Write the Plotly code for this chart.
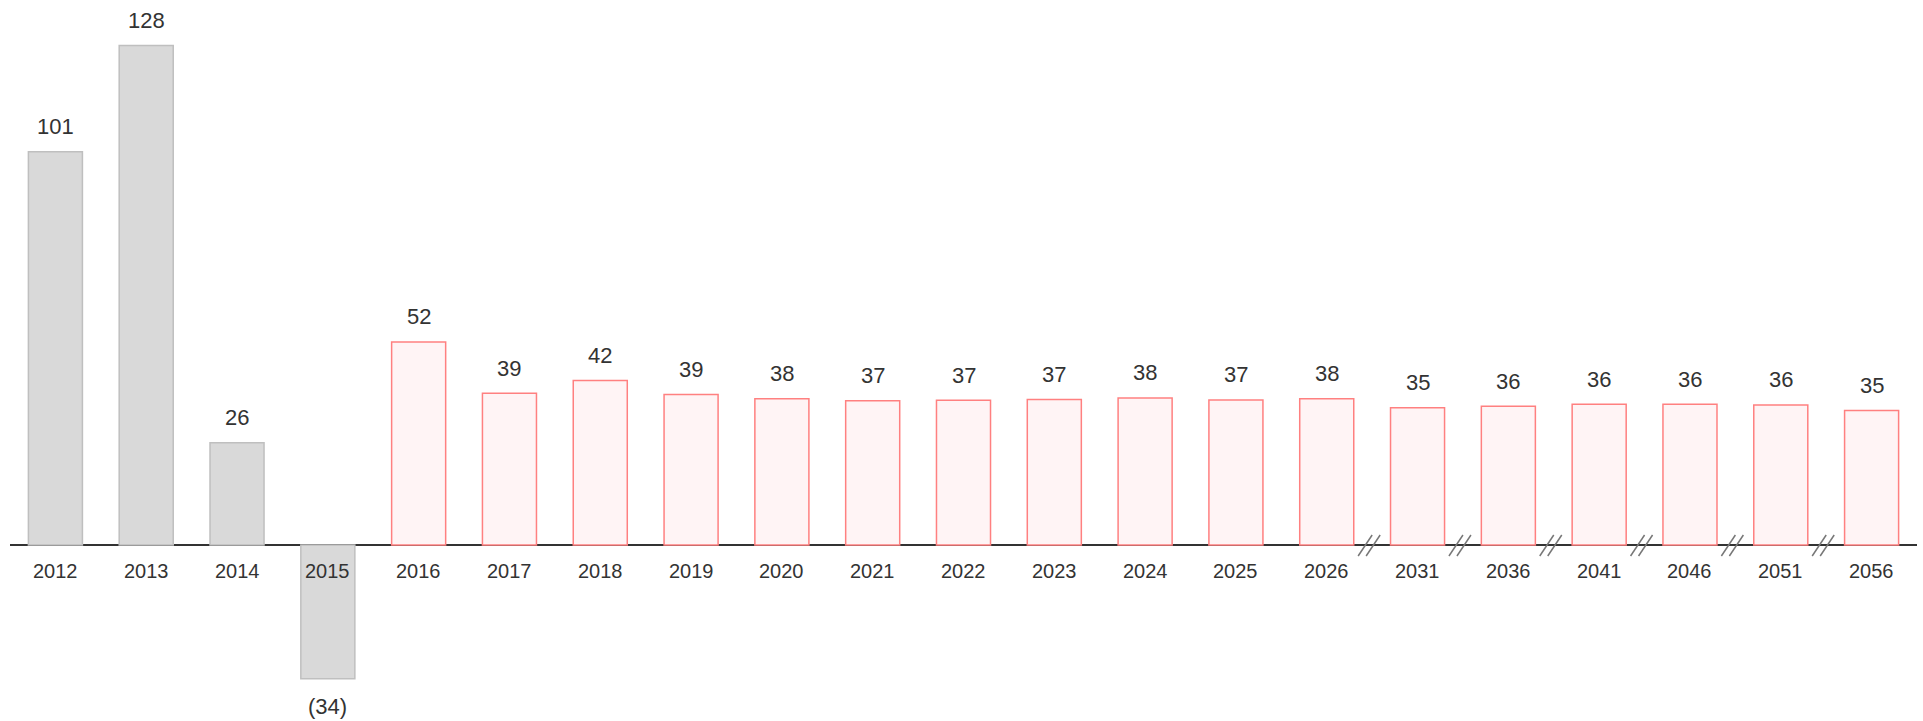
import math
import plotly.graph_objects as go

years = ["2012", "2013", "2014", "2015", "2016", "2017", "2018", "2019", "2020",
         "2021", "2022", "2023", "2024", "2025", "2026", "2031", "2036", "2041",
         "2046", "2051", "2056"]
values = [101.1, 128.4, 26.3, -34.4, 52.2, 39.0, 42.3, 38.7, 37.6,
          37.1, 37.2, 37.4, 37.8, 37.3, 37.6, 35.3, 35.7, 36.2,
          36.2, 36.0, 34.6]
n_actual = 4  # first four years are historical (grey)
break_after = ["2026", "2031", "2036", "2041", "2046", "2051"]

grey_fill, grey_line = "#d9d9d9", "#bfbfbf"
red_fill, red_line = "#fff4f5", "#ff8080"

fills = [grey_fill if i < n_actual else red_fill for i in range(len(years))]
lines = [grey_line if i < n_actual else red_line for i in range(len(years))]


def fmt(v):
    r = int(math.floor(abs(v) + 0.5))
    return f"({r})" if v < 0 else str(r)


fig = go.Figure()
fig.add_trace(go.Bar(
    x=years, y=values,
    marker=dict(color=fills, line=dict(color=lines, width=1.5)),
    hoverinfo="x+y",
))

font_family = "Liberation Sans, Arial, Helvetica, sans-serif"
annotations = []
for i, (yr, v) in enumerate(zip(years, values)):
    annotations.append(dict(
        x=i, y=v, xref="x", yref="y", text=fmt(v), showarrow=False,
        yanchor="middle", yshift=25 if v >= 0 else -28,
        font=dict(size=22, color="#333333", family=font_family),
    ))
    annotations.append(dict(
        x=i, y=0, xref="x", yref="y", text=yr, showarrow=False,
        yanchor="middle", yshift=-26,
        font=dict(size=20, color="#333333", family=font_family),
    ))

shapes = []
for yr in break_after:
    xa = years.index(yr) + 0.5
    for dx in (-14, -6):
        shapes.append(dict(
            type="line", xref="x", yref="y",
            xsizemode="pixel", ysizemode="pixel",
            xanchor=xa, yanchor=0,
            x0=dx, x1=dx + 14, y0=-11, y1=10,
            line=dict(color="#777777", width=1.5),
        ))

px_per_unit = 3.89
fig_h = 721
axis_y = 545  # pixel row of the zero line
fig.update_layout(
    width=1923, height=fig_h,
    margin=dict(l=10, r=6, t=0, b=0),
    paper_bgcolor="white", plot_bgcolor="white",
    showlegend=False,
    bargap=0.405,
    xaxis=dict(type="category", range=[-0.5, len(years) - 0.5],
               showticklabels=False, showgrid=False, zeroline=False,
               showline=False, ticks=""),
    yaxis=dict(range=[-(fig_h - axis_y) / px_per_unit, axis_y / px_per_unit],
               showticklabels=False, showgrid=False,
               zeroline=True, zerolinecolor="#333333", zerolinewidth=1.5,
               showline=False, ticks=""),
    annotations=annotations,
    shapes=shapes,
)

fig.write_html(
    "out.html",
    config={"displayModeBar": False},
    post_script="document.body.style.margin='0px';"
                "document.body.style.overflow='hidden';",
)
